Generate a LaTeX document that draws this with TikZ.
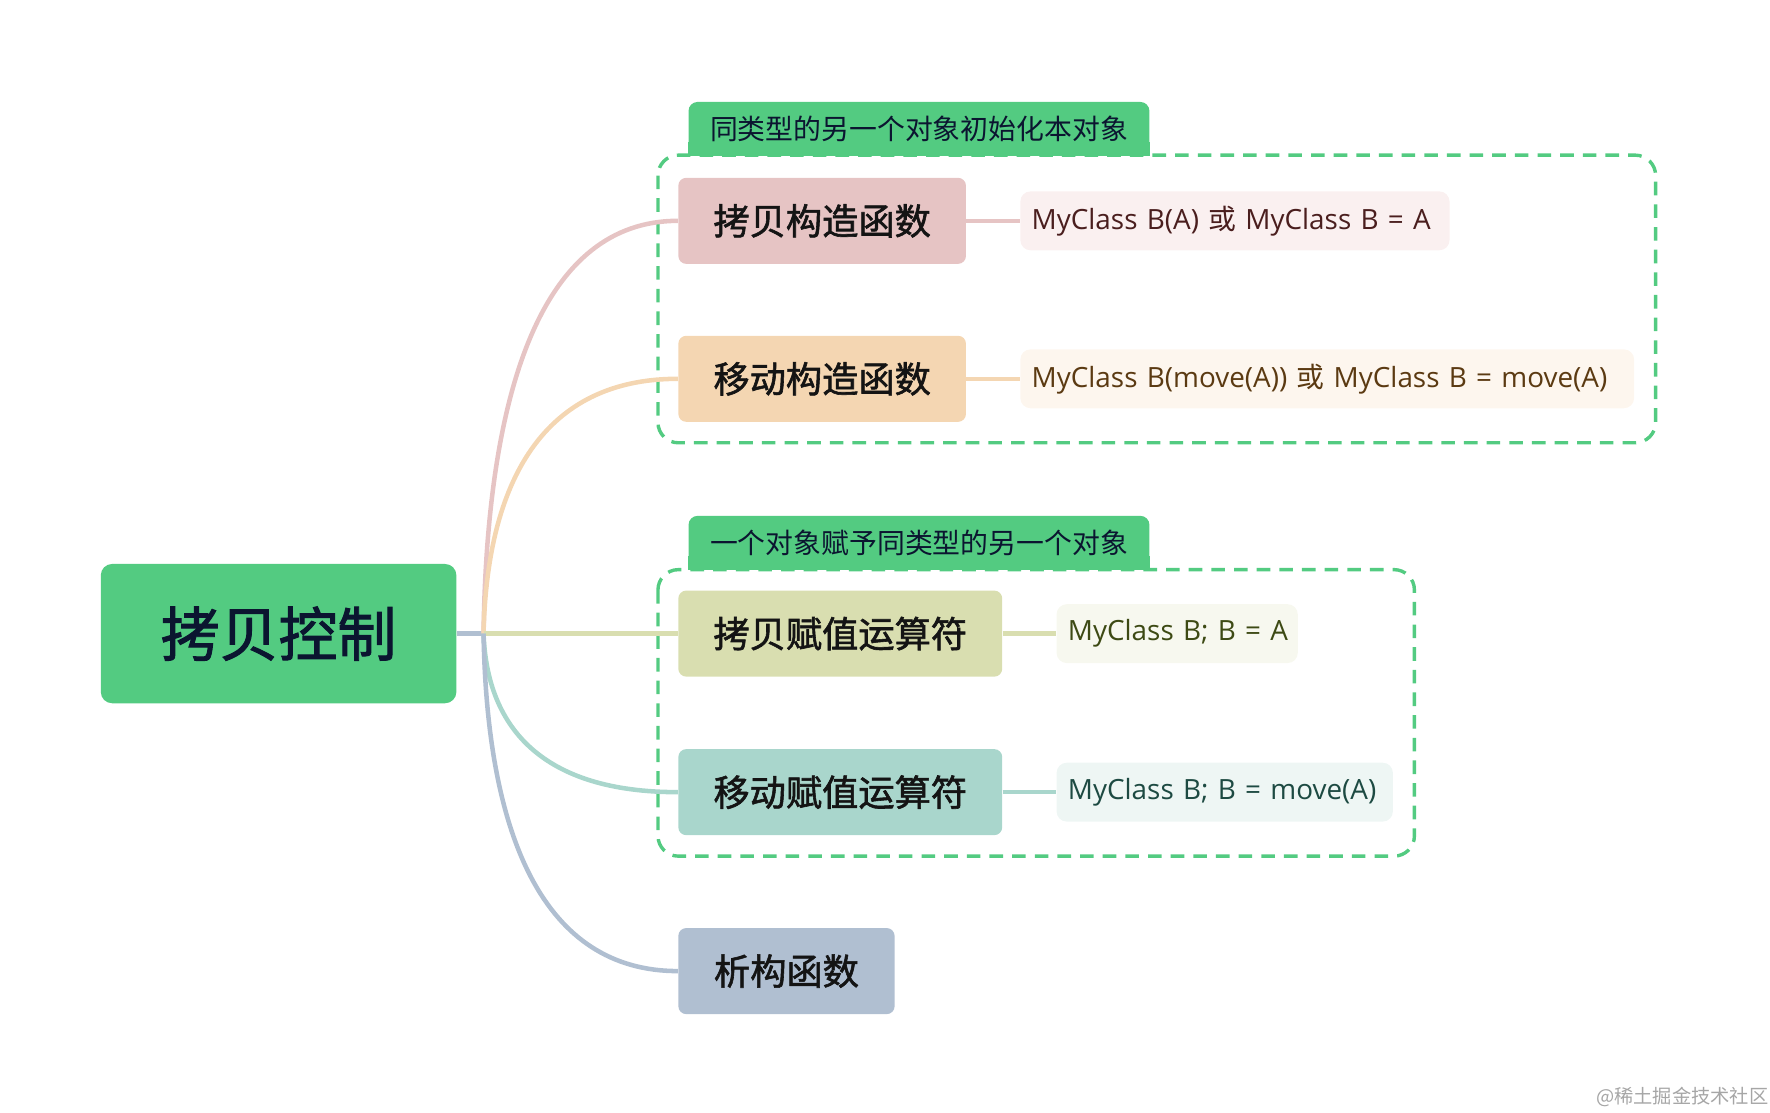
\documentclass[tikz,border=0pt]{standalone}
\usepackage{fontspec}
\setmainfont{Noto Sans CJK SC}
\newfontfamily\cjkfb{Noto Sans CJK SC}[FakeBold=1.6]
\newfontfamily\codefont{Open Sans}
\newfontfamily\cjk{Noto Sans CJK SC}
\usetikzlibrary{calc}
\definecolor{grp}{HTML}{53CB81}
\definecolor{darktxt}{HTML}{0B1530}
\definecolor{pinkc}{HTML}{E6C4C4}
\definecolor{orangec}{HTML}{F4D6B2}
\definecolor{khakic}{HTML}{D9DEB0}
\definecolor{tealc}{HTML}{A9D6CC}
\definecolor{bluec}{HTML}{B0BFD1}
\definecolor{pinkl}{HTML}{FAF0F0}
\definecolor{orangel}{HTML}{FDF6EE}
\definecolor{khakil}{HTML}{F7F8EF}
\definecolor{teall}{HTML}{EEF6F4}
\definecolor{pinkt}{HTML}{4A1E1E}
\definecolor{oranget}{HTML}{5B3A12}
\definecolor{khakit}{HTML}{3D4A14}
\definecolor{tealt}{HTML}{1D4A42}
\tikzset{
  rootbox/.style={fill=grp, rounded corners=5pt, minimum width=157pt, minimum height=61.5pt, inner sep=0pt, text=darktxt, font=\fontsize{26}{30}\cjkfb},
  subbox/.style={rounded corners=3.5pt, minimum height=38pt, inner sep=0pt, text=black!92, font=\fontsize{16}{19}\cjkfb},
  codebox/.style={rounded corners=4.5pt, minimum height=26pt, inner ysep=0pt, inner xsep=5pt, align=left, font=\fontsize{12.3}{14}\codefont},
  tabbox/.style={fill=grp, rounded corners=4pt, minimum width=203.5pt, minimum height=23.5pt, inner sep=0pt, text=darktxt, font=\fontsize{12.3}{14}\selectfont},
  grpframe/.style={draw=grp, line width=1.5pt, dash pattern=on 6pt off 4pt, rounded corners=9pt},
  link/.style={line width=2pt}
}
\begin{document}
\begin{tikzpicture}[x=0.5pt,y=-0.5pt]
\useasboundingbox (0,0) rectangle (1563,982);
% group frames
\draw[grpframe] (581,137) rectangle (1462,391);
\draw[grpframe] (581,503) rectangle (1249,756);
% tabs
\node[tabbox] (tab1) at (811.5,113.5) {};
\fill[grp] ($(tab1.south west)+(0,-12)$) rectangle (tab1.south east);
\node[tabbox, fill=none] (tab1t) at (tab1) {同类型的另一个对象初始化本对象};
\node[tabbox] (tab2) at (811.5,479) {};
\fill[grp] ($(tab2.south west)+(0,-12)$) rectangle (tab2.south east);
\node[tabbox, fill=none] (tab2t) at (tab2) {一个对象赋予同类型的另一个对象};
% root
\node[rootbox] (root) at (246,559.5) {拷贝控制};
\coordinate (hub) at (427,559.5);
% children
\node[subbox, fill=pinkc, minimum width=127pt] (cc) at (726,195) {拷贝构造函数};
\node[subbox, fill=orangec, minimum width=127pt] (mc) at (726,334.5) {移动构造函数};
\node[subbox, fill=khakic, minimum width=143pt] (ca) at (742,559.5) {拷贝赋值运算符};
\node[subbox, fill=tealc, minimum width=143pt] (ma) at (742,699.5) {移动赋值运算符};
\node[subbox, fill=bluec, minimum width=95.5pt] (de) at (694.5,857.5) {析构函数};
% code boxes
\node[codebox, fill=pinkl, text=pinkt, text width=179.5pt] (k1) at (1090.5,195) {\mbox{MyClass B(A) {\cjk 或} MyClass B = A}};
\node[codebox, fill=orangel, text=oranget, text width=261pt] (k2) at (1172,334.5) {\mbox{MyClass B(move(A)) {\cjk 或} MyClass B = move(A)}};
\node[codebox, fill=khakil, text=khakit, text width=96.5pt] (k3) at (1039.5,559.5) {\mbox{MyClass B; B = A}};
\node[codebox, fill=teall, text=tealt, text width=138.5pt] (k4) at (1081.5,699.5) {\mbox{MyClass B; B = move(A)}};
% connectors
\draw[link, bluec] (root.east) -- (hub);
\draw[link, pinkc] (hub) .. controls (430,341) and (480,195) .. (cc.west);
\draw[link, orangec] (hub) .. controls (430,424.7) and (480,334.5) .. (mc.west);
\draw[link, khakic] (hub) -- (ca.west);
\draw[link, tealc] (hub) .. controls (430,643.7) and (480,699.5) .. (ma.west);
\draw[link, bluec] (hub) .. controls (430,738.5) and (480,857.5) .. (de.west);
\draw[link, pinkc] (cc.east) -- (k1.west);
\draw[link, orangec] (mc.east) -- (k2.west);
\draw[link, khakic] (ca.east) -- (k3.west);
\draw[link, tealc] (ma.east) -- (k4.west);
% watermark
\node[anchor=east, text=black!35, font=\fontsize{8.5}{10}\selectfont, inner sep=0pt] (wm) at (1562,969) {@稀土掘金技术社区};
\end{tikzpicture}
\end{document}
